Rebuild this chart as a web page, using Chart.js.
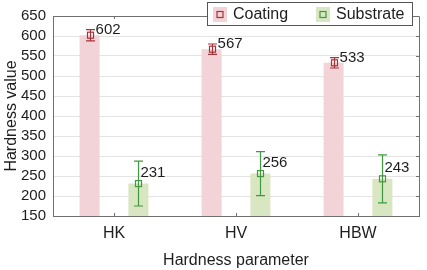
<html>
  <head>
    <script src="https://cdn.jsdelivr.net/npm/chart.js@4.4.1/dist/chart.umd.min.js"></script>
    <style>
      body { margin: 0; background: #fff; }
      #box { width: 427px; height: 270px; position: relative; }
    </style>
  </head>
  <body>
    <div id="box"><canvas id="hardnessCanvas"></canvas></div>
    <script>
      var categories = ['HK', 'HV', 'HBW'];
      var coatingValues = [602, 567, 533];
      var coatingErrors = [14, 13, 13];
      var substrateValues = [231, 256, 243];
      var substrateErrors = [56, 55, 60];
      var yTicks = [150, 200, 250, 300, 350, 400, 450, 500, 550, 600, 650];

      var FONT = "'Liberation Sans', Arial, sans-serif";
      var AXIS_COLOR = '#707070';
      var coatingFill = '#f2d4d8';
      var substrateFill = '#d9e6c2';

      // per dataset look of markers, error bars and value labels
      var extras = [
        { errors: coatingErrors, color: '#a8323c', dx: 6, dy: -5 },
        { errors: substrateErrors, color: '#3f9a3f', dx: 2, dy: -11 }
      ];

      var extrasPlugin = {
        id: 'extras',
        afterDatasetsDraw: function(chart) {
          var ctx = chart.ctx;
          var y = chart.scales.y;
          var x = chart.scales.x;
          var area = chart.chartArea;
          ctx.save();

          // top and right frame with inward ticks
          ctx.strokeStyle = AXIS_COLOR;
          ctx.lineWidth = 1;
          ctx.beginPath();
          ctx.moveTo(area.left, area.top + 0.5);
          ctx.lineTo(area.right + 0.5, area.top + 0.5);
          ctx.lineTo(area.right + 0.5, area.bottom);
          yTicks.forEach(function(v) {
            var py = Math.round(y.getPixelForValue(v)) + 0.5;
            ctx.moveTo(area.right - 3, py);
            ctx.lineTo(area.right, py);
          });
          categories.forEach(function(c, i) {
            var px = Math.round(x.getPixelForValue(i)) + 0.5;
            ctx.moveTo(px, area.bottom);
            ctx.lineTo(px, area.bottom - 3);
            ctx.moveTo(px, area.top);
            ctx.lineTo(px, area.top + 3);
          });
          ctx.stroke();

          // error bars, markers, value labels
          chart.data.datasets.forEach(function(ds, di) {
            var meta = chart.getDatasetMeta(di);
            var ex = extras[di];
            meta.data.forEach(function(bar, i) {
              var v = ds.data[i];
              var cx = Math.round(bar.x) + 0.5;
              var top = y.getPixelForValue(v + ex.errors[i]);
              var bot = y.getPixelForValue(v - ex.errors[i]);
              var py = y.getPixelForValue(v);
              ctx.strokeStyle = ex.color;
              ctx.lineWidth = 1.2;
              ctx.beginPath();
              ctx.moveTo(cx, top);
              ctx.lineTo(cx, bot);
              ctx.moveTo(cx - 4.5, top);
              ctx.lineTo(cx + 4.5, top);
              ctx.moveTo(cx - 4.5, bot);
              ctx.lineTo(cx + 4.5, bot);
              ctx.stroke();
              ctx.strokeRect(cx - 3, py - 3, 6, 6);

              ctx.fillStyle = '#1e1e1e';
              ctx.font = '15px ' + FONT;
              ctx.textAlign = 'left';
              ctx.textBaseline = 'middle';
              ctx.fillText(String(v), bar.x + ex.dx, py + ex.dy);
            });
          });

          // legend box
          ctx.fillStyle = '#fff';
          ctx.fillRect(207, 2, 205, 23);
          ctx.strokeStyle = '#555';
          ctx.lineWidth = 1;
          ctx.strokeRect(207.5, 2.5, 205, 23);
          var items = [
            { label: 'Coating', fill: coatingFill, color: extras[0].color, x: 213 },
            { label: 'Substrate', fill: substrateFill, color: extras[1].color, x: 316 }
          ];
          items.forEach(function(it) {
            ctx.fillStyle = it.fill;
            ctx.fillRect(it.x, 7, 14, 15);
            ctx.strokeStyle = it.color;
            ctx.lineWidth = 1.2;
            ctx.strokeRect(it.x + 4, 11.5, 6, 6);
            ctx.fillStyle = '#1e1e1e';
            ctx.font = '16px ' + FONT;
            ctx.textAlign = 'left';
            ctx.textBaseline = 'middle';
            ctx.fillText(it.label, it.x + 20, 14.5);
          });

          ctx.restore();
        }
      };

      new Chart(document.getElementById('hardnessCanvas').getContext('2d'), {
        type: 'bar',
        data: {
          labels: categories,
          datasets: [
            { label: 'Coating', data: coatingValues, backgroundColor: coatingFill },
            { label: 'Substrate', data: substrateValues, backgroundColor: substrateFill }
          ]
        },
        options: {
          responsive: true,
          maintainAspectRatio: false,
          animation: false,
          datasets: { bar: { categoryPercentage: 0.8, barPercentage: 0.41 } },
          layout: { padding: { left: 0, right: 8, top: 11, bottom: 0 } },
          plugins: { legend: { display: false }, tooltip: { enabled: false } },
          scales: {
            x: {
              grid: { display: false, drawTicks: false },
              border: { color: AXIS_COLOR, width: 1 },
              ticks: { color: '#1e1e1e', font: { family: FONT, size: 16 }, padding: 8 },
              title: { display: true, text: 'Hardness parameter', color: '#1e1e1e',
                       font: { family: FONT, size: 16 }, padding: { top: 3, bottom: 0 } },
              afterFit: function(scale) { scale.height = 54; }
            },
            y: {
              min: yTicks[0],
              max: yTicks[yTicks.length - 1],
              afterBuildTicks: function(scale) {
                scale.ticks = yTicks.map(function(v) { return { value: v }; });
              },
              grid: { color: '#e3e3e3', drawTicks: false },
              border: { color: AXIS_COLOR, width: 1 },
              ticks: { color: '#1e1e1e', font: { family: FONT, size: 15 }, padding: 7, autoSkip: false },
              title: { display: true, text: 'Hardness value', color: '#1e1e1e',
                       font: { family: FONT, size: 16 }, padding: { top: 2, bottom: 0 } },
              afterFit: function(scale) { scale.width = 53; }
            }
          }
        },
        plugins: [extrasPlugin]
      });
    </script>
  </body>
</html>
